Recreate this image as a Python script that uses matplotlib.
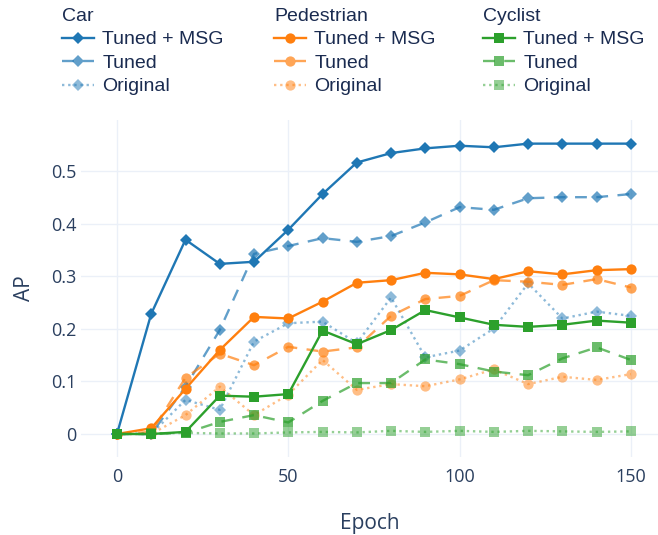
import matplotlib
matplotlib.use("Agg")
import matplotlib.pyplot as plt
from matplotlib.font_manager import FontProperties

plt.rcParams['font.family'] = ['Open Sans', 'DejaVu Sans']

epochs = [0, 10, 20, 30, 40, 50, 60, 70, 80, 90, 100, 110, 120, 130, 140, 150]

car_msg = [0, 0.229, 0.370, 0.324, 0.328, 0.389, 0.457, 0.517, 0.535, 0.544, 0.549, 0.546, 0.553, 0.553, 0.553, 0.553]
car_tuned = [0, 0.0, 0.090, 0.198, 0.343, 0.358, 0.373, 0.366, 0.377, 0.403, 0.432, 0.427, 0.449, 0.451, 0.451, 0.457]
car_orig = [0, 0.0, 0.065, 0.046, 0.176, 0.211, 0.214, 0.173, 0.260, 0.146, 0.159, 0.201, 0.287, 0.220, 0.233, 0.225]

ped_msg = [0, 0.011, 0.086, 0.160, 0.223, 0.220, 0.252, 0.288, 0.293, 0.307, 0.304, 0.295, 0.310, 0.304, 0.312, 0.314]
ped_tuned = [0, 0.004, 0.107, 0.153, 0.131, 0.166, 0.157, 0.165, 0.225, 0.257, 0.263, 0.293, 0.290, 0.284, 0.295, 0.279]
ped_orig = [0, 0.0, 0.036, 0.090, 0.036, 0.075, 0.141, 0.084, 0.095, 0.091, 0.104, 0.123, 0.095, 0.109, 0.103, 0.114]

cyc_msg = [0, 0.0, 0.004, 0.073, 0.071, 0.076, 0.197, 0.171, 0.198, 0.236, 0.222, 0.208, 0.204, 0.208, 0.216, 0.212]
cyc_tuned = [0, 0.0, 0.002, 0.023, 0.036, 0.022, 0.063, 0.097, 0.097, 0.142, 0.133, 0.119, 0.112, 0.144, 0.165, 0.141]
cyc_orig = [0, 0.001, 0.002, 0.001, 0.001, 0.003, 0.004, 0.003, 0.006, 0.004, 0.006, 0.004, 0.006, 0.005, 0.004, 0.005]

classes = ["Car", "Pedestrian", "Cyclist"]
variants = ["Tuned + MSG", "Tuned", "Original"]
series = {
    "Car": [car_msg, car_tuned, car_orig],
    "Pedestrian": [ped_msg, ped_tuned, ped_orig],
    "Cyclist": [cyc_msg, cyc_tuned, cyc_orig],
}
colors = {"Car": "#1f77b4", "Pedestrian": "#ff7f0e", "Cyclist": "#2ca02c"}
markers = {"Car": ("D", 6.6), "Pedestrian": ("o", 7.4), "Cyclist": ("s", 6.8)}
alphas = [1.0, 0.7, 0.5]
dash_styles = [None, (5, 4), (1.0, 1.6)]

yticks = [0, 0.1, 0.2, 0.3, 0.4, 0.5]
ytick_labels = ["0", "0.1", "0.2", "0.3", "0.4", "0.5"]
xticks = [0, 50, 100, 150]

W, H = 658, 535
fig = plt.figure(figsize=(W / 100, H / 100), dpi=100)
ax = fig.add_axes([81 / W, (H - 457) / H, (658 - 81) / W, (457 - 120) / H])

grid_c = "#ebf0f8"
text_c = "#2a3f5f"
legend_c = "#1a2b50"

handles = {c: [] for c in classes}
z = 3
for c in classes:
    m, ms = markers[c]
    for i, v in enumerate(variants):
        kw = dict(color=colors[c], marker=m, markersize=ms, lw=1.7,
                  alpha=alphas[i], zorder=z, markeredgewidth=0)
        line, = ax.plot(epochs, series[c][i], **kw)
        if dash_styles[i] is not None:
            line.set_dashes(dash_styles[i])
        handles[c].append(line)
        z += 1

ax.set_xlim(-10.5, 157.9)
ax.set_ylim(-0.0438, 0.598)
ax.set_xticks(xticks)
ax.set_yticks(yticks)
ax.set_yticklabels(ytick_labels)
ax.grid(True, color=grid_c, lw=1.0, zorder=0)
ax.set_axisbelow(True)
for s in ax.spines.values():
    s.set_visible(False)
ax.tick_params(axis='both', length=0, labelsize=13, labelcolor=text_c)
ax.tick_params(axis='y', pad=3)
ax.tick_params(axis='x', pad=8)
ax.set_xlabel("Epoch", fontsize=15, color=text_c, labelpad=19)
ax.set_ylabel("AP", fontsize=15, color=text_c, labelpad=12)

leg_font = FontProperties(family='Liberation Sans', size=14)
legend_x = [62, 274, 483]
for c, lx in zip(classes, legend_x):
    leg = fig.legend(handles[c], variants, title=c, loc='upper left',
                     bbox_to_anchor=(lx / W, 1 - 8 / H), frameon=False,
                     prop=leg_font, title_fontproperties=leg_font,
                     alignment='left',
                     handlelength=1.65, handletextpad=0.42, labelspacing=0.3,
                     borderpad=0, borderaxespad=0)
    leg.get_title().set_color(legend_c)
    for t in leg.get_texts():
        t.set_color(legend_c)

fig.savefig("out.png", dpi=100)
